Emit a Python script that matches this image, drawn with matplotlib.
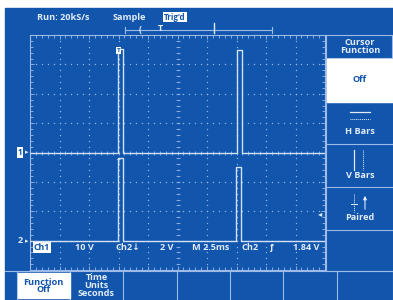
import matplotlib
matplotlib.use('Agg')
import matplotlib.pyplot as plt
import matplotlib.transforms as mtransforms
from matplotlib.patches import Rectangle
import numpy as np

# scope settings
ch1_scale = 10.0    # V/div
ch2_scale = 2.0     # V/div
ch1_pos = 0.0       # div
ch2_pos = -3.0      # div
time_div = 2.5      # ms/div
trig_level = 1.84   # V on Ch2

# waveform corner points, time in ms, level in volts
ch1_t = [0, 7.48, 7.48, 7.86, 7.86, 17.54, 17.54, 17.94, 17.94, 25]
ch1_v = [0, 0, 35.2, 35.2, 0, 0, 35.0, 35.0, 0, 0]
ch2_t = [0, 7.48, 7.48, 7.86, 7.86, 17.48, 17.48, 17.88, 17.88, 25]
ch2_v = [0, 0, 5.6, 5.6, 0, 0, 5.0, 5.0, 0, 0]

# readouts
top_labels = ['Run: 20kS/s', 'Sample', "Trig'd"]
status_labels = ['Ch1', '10 V', 'Ch2\u2193', '2 V', 'M 2.5ms', 'Ch2', '\u0192', '1.84 V']
side_title = 'Cursor\nFunction'
side_items = ['Off', 'H Bars', 'V Bars', 'Paired']
bottom_items = ['Function\nOff', 'Time\nUnits\nSeconds', '', '', '', '', '']

BLUE = '#1155ad'
TRACE = '#d2e2f6'
GRID = '#93b5e6'
TEXT = '#e2ecf9'
LINE = '#9dbbe6'

plt.rcParams['font.family'] = ['Open Sans', 'DejaVu Sans']
plt.rcParams['font.weight'] = 'bold'
FS = 6.6

W, H = 393, 300
fig = plt.figure(figsize=(W / 100, H / 100), dpi=100)
fig.patch.set_facecolor('white')

# pixel canvas for the screen furniture
bg = fig.add_axes([0, 0, 1, 1])
bg.set_xlim(0, W)
bg.set_ylim(H, 0)
bg.axis('off')
bg.add_patch(Rectangle((5, 8), W - 5, H - 8, color=BLUE, zorder=0))

# top readout
bg.text(37, 17, top_labels[0], color=TEXT, fontsize=FS, va='center')
bg.text(113, 17, top_labels[1], color=TEXT, fontsize=FS, va='center')
bg.text(175, 17, top_labels[2], color=BLUE, fontsize=FS - 0.8, va='center', ha='center',
        bbox=dict(boxstyle='square,pad=0.12', fc='white', ec='none'))

# record / trigger position bar
bg.plot([125, 272], [30, 30], color=LINE, lw=0.8)
bg.plot([125, 125], [27, 33], color=LINE, lw=0.8)
bg.plot([272, 272], [27, 33], color=LINE, lw=0.8)
bg.text(140, 29, '(', color=TEXT, fontsize=FS, ha='center', va='center')
bg.text(160, 28.5, 'T', color=TEXT, fontsize=FS, ha='center', va='center')
bg.plot([214, 214], [23, 33], color=TEXT, lw=1.0)

# right side menu
px0, px1 = 326, 393
for y in [35, 58, 102, 144, 187, 230, 271]:
    bg.plot([px0, px1], [y, y], color=LINE, lw=0.8)
bg.plot([px0, px0], [35, 271], color=LINE, lw=0.8)
bg.plot([392, 392], [35, 58], color=LINE, lw=0.8)
bg.text(360, 46.5, side_title, color=TEXT, fontsize=FS, ha='center', va='center',
        linespacing=0.9)
bg.add_patch(Rectangle((px0 + 0.5, 59), px1 - px0, 43, color='white', zorder=2))
bg.text(360, 80, side_items[0], color=BLUE, fontsize=FS, ha='center', va='center', zorder=3)
# H bars icon
bg.plot([350, 370], [112, 112], color=TEXT, lw=0.9)
bg.plot([350, 370], [119, 119], color=TEXT, lw=0.7, ls=(0, (1, 1)))
bg.text(360, 132, side_items[1], color=TEXT, fontsize=FS, ha='center', va='center')
# V bars icon
bg.plot([354, 354], [150, 170], color=TEXT, lw=0.9)
bg.plot([363, 363], [150, 170], color=TEXT, lw=0.7, ls=(0, (1, 1)))
bg.text(360, 176, side_items[2], color=TEXT, fontsize=FS, ha='center', va='center')
# paired icon
bg.plot([354, 354], [194, 212], color=TEXT, lw=0.7, ls=(0, (1, 1)))
bg.plot([351, 357], [204, 204], color=TEXT, lw=0.7)
bg.annotate('', xy=(365, 193), xytext=(365, 212),
            arrowprops=dict(arrowstyle='-|>', color=TEXT, lw=0.8, mutation_scale=5))
bg.text(360, 218, side_items[3], color=TEXT, fontsize=FS, ha='center', va='center')

# bottom menu
edges = [17, 70, 123, 177, 230, 283, 337, 393]
bg.plot([5, W], [271, 271], color=LINE, lw=0.8)
for x in edges:
    bg.plot([x, x], [272, H], color=LINE, lw=0.8)
bg.add_patch(Rectangle((edges[0] + 0.5, 273), edges[1] - edges[0] - 1, 25,
                       color='white', zorder=2))
for i, lab in enumerate(bottom_items):
    if not lab:
        continue
    xc = (edges[i] + edges[i + 1]) / 2
    bg.text(xc, 286 if i == 0 else 285.5, lab, color=BLUE if i == 0 else TEXT,
            fontsize=FS, ha='center', va='center', linespacing=0.85, zorder=3)

# status line inside graticule
sy = 247
bg.text(42, sy, status_labels[0], color=BLUE, fontsize=FS - 0.3, ha='center', va='center',
        bbox=dict(boxstyle='square,pad=0.12', fc='white', ec='none'))
bg.text(75, sy, status_labels[1], color=TEXT, fontsize=FS, va='center')
bg.text(115, sy, status_labels[2], color=TEXT, fontsize=FS, va='center')
bg.text(160, sy, status_labels[3], color=TEXT, fontsize=FS, va='center')
bg.text(192, sy, status_labels[4], color=TEXT, fontsize=FS, va='center')
bg.text(242, sy, status_labels[5], color=TEXT, fontsize=FS, va='center')
bg.text(271, sy, status_labels[6], color=TEXT, fontsize=FS, va='center', ha='center')
bg.text(293, sy, status_labels[7], color=TEXT, fontsize=FS, va='center')

# graticule axes: x in ms, y in divisions
gx0, gy0, gx1, gy1 = 30, 35, 325, 270
ax = fig.add_axes([gx0 / W, (H - gy1) / H, (gx1 - gx0) / W, (gy1 - gy0) / H])
ax.set_facecolor('none')
ax.set_xlim(0, 10 * time_div)
ax.set_ylim(-4, 4)
for s in ax.spines.values():
    s.set_color(LINE)
    s.set_linewidth(0.8)
    s.set_linestyle((0, (3, 1)))
ax.set_xticks(np.arange(0, 25.01, time_div))
ax.set_yticks(np.arange(-4, 4.01, 1))
ax.set_xticks(np.arange(0, 25.01, time_div / 5), minor=True)
ax.set_yticks(np.arange(-4, 4.01, 0.2), minor=True)
ax.tick_params(which='both', direction='in', top=True, right=True, color=LINE,
               labelbottom=False, labelleft=False, width=0.6)
ax.tick_params(which='major', length=3)
ax.tick_params(which='minor', length=2)

# dotted grid
xd = np.arange(0, 25.01, time_div / 5)
yd = np.arange(-4, 4.01, 0.2)
for gx in np.arange(time_div, 25, time_div):
    ax.scatter(np.full_like(yd, gx), yd, s=1.0, color=GRID, lw=0, zorder=1)
for gy in np.arange(-3, 4, 1):
    ax.scatter(xd, np.full_like(xd, gy), s=1.0, color=GRID, lw=0, zorder=1)
# center cross with ticks
ax.plot(np.full_like(yd, 12.5), yd, ls='none', marker='_', ms=3, mew=0.6, color=GRID)
ax.plot(xd, np.zeros_like(xd), ls='none', marker='|', ms=3, mew=0.6, color=GRID)

# traces
ax.plot(ch1_t, np.array(ch1_v) / ch1_scale + ch1_pos, color=TRACE, lw=1.0, zorder=5)
ax.plot(ch2_t, np.array(ch2_v) / ch2_scale + ch2_pos, color=TRACE, lw=1.0, zorder=5)

# trigger markers on traces
ax.text(ch1_t[1] + 0.02, ch1_v[2] / ch1_scale + ch1_pos - 0.05, 'T', color=BLUE,
        fontsize=4.5, ha='center', va='center', zorder=6,
        bbox=dict(boxstyle='square,pad=0.1', fc='white', ec='none'))
ax.text(ch2_t[1] + 0.05, ch2_v[2] / ch2_scale + ch2_pos - 0.1, 'T', color=TRACE,
        fontsize=4.5, ha='center', va='center', zorder=6)

# trigger level arrow on right edge
ax.text(24.6, trig_level / ch2_scale + ch2_pos, '\u25c2', color=TEXT,
        fontsize=6, ha='center', va='center', family='DejaVu Sans')

# channel ground markers left of graticule
tr = mtransforms.blended_transform_factory(bg.transData, ax.transData)
ax.text(20, ch1_pos, '1', transform=tr, color=BLUE, fontsize=FS - 0.8, ha='center',
        va='center', bbox=dict(boxstyle='square,pad=0.12', fc='white', ec='none'))
ax.text(27, ch1_pos, '\u25b8', transform=tr, color=TEXT, fontsize=5, ha='center',
        va='center', family='DejaVu Sans')
ax.text(20, ch2_pos, '2', transform=tr, color=TEXT, fontsize=FS, ha='center', va='center')
ax.text(27, ch2_pos, '\u25b8', transform=tr, color=TEXT, fontsize=5, ha='center',
        va='center', family='DejaVu Sans')

fig.savefig('out.png', dpi=100)
